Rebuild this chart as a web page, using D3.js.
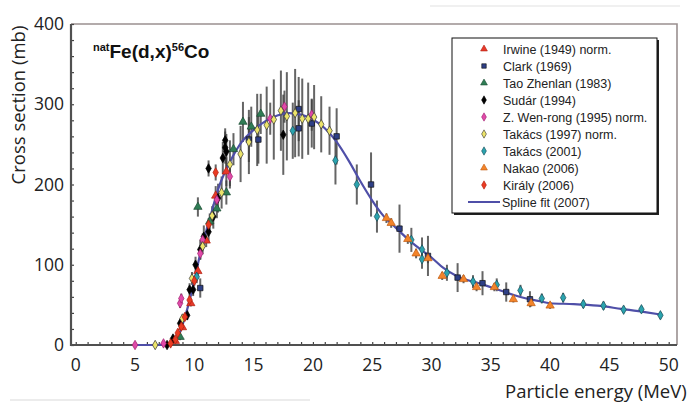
<!DOCTYPE html>
<html>
<head>
<meta charset="utf-8">
<script src="https://cdn.jsdelivr.net/npm/d3@7"></script>
<style>
  body { margin: 0; background: #fff; overflow: hidden; }
  svg { display: block; }
</style>
</head>
<body>
<svg id="chart" width="700" height="403"></svg>
<script>
// ===============================
// Data (energy MeV, cross section mb, error mb)
// ===============================
const xTicks = [0, 5, 10, 15, 20, 25, 30, 35, 40, 45, 50];
const yTicks = [0, 100, 200, 300, 400];

const irwine = [[8.4, 5, 0], [9.0, 22, 3], [9.7, 52, 4], [10.3, 92, 6], [11.0, 130, 8], [11.8, 186, 12], [12.7, 216, 18]];
const clark = [[10.5, 71, 12], [14.6, 256, 28], [15.4, 256, 30], [18.8, 294, 40], [18.8, 270, 35], [19.9, 276, 30],
  [22.0, 260, 35], [24.9, 200, 40], [27.3, 145, 30], [29.7, 111, 25], [32.2, 84, 18], [34.3, 77, 15], [36.3, 66, 12], [38.3, 57, 10]];
const taoZhenlan = [[8.8, 10, 4], [10.3, 172, 12], [11.3, 154, 10], [11.9, 170, 12], [12.7, 190, 15], [13.3, 244, 20],
  [14.1, 278, 25], [14.8, 272, 25], [15.6, 288, 25]];
const sudar = [[7.7, 0, 2], [8.2, 8, 3], [8.8, 27, 5], [9.4, 37, 6], [9.6, 69, 8], [9.9, 69, 8], [10.1, 100, 10],
  [10.5, 119, 12], [10.8, 135, 14], [11.2, 141, 14], [11.2, 220, 10], [11.6, 160, 15], [12.0, 183, 18],
  [12.4, 233, 20], [12.6, 246, 20], [12.7, 241, 22], [12.6, 255, 15], [17.5, 262, 50]];
const wenRong = [[5.0, 0, 0], [7.4, 2, 0], [8.8, 52, 6], [8.9, 58, 6], [10.5, 114, 8], [10.7, 131, 8], [11.9, 181, 10],
  [13.0, 210, 12], [16.4, 282, 20], [17.6, 297, 20], [19.9, 287, 20]];
const takacs1997 = [[6.7, 0, 0], [9.0, 33, 5], [9.8, 83, 8], [10.7, 123, 10], [11.5, 161, 12], [12.3, 190, 20],
  [13.0, 225, 30], [13.9, 238, 35], [14.6, 253, 40], [15.3, 268, 45], [16.1, 274, 48], [16.7, 281, 50],
  [17.3, 292, 50], [17.8, 285, 55], [18.5, 289, 55], [19.1, 282, 50], [19.6, 282, 45], [20.1, 284, 40],
  [20.7, 275, 35], [21.4, 267, 30]];
const takacs2001 = [[10.2, 85, 8], [18.3, 267, 35], [21.9, 230, 30], [23.7, 200, 25], [25.4, 160, 20], [28.3, 131, 15],
  [29.2, 119, 15], [29.2, 107, 12], [31.3, 90, 10], [33.5, 79, 8], [35.5, 75, 8], [37.5, 68, 7], [39.3, 58, 6],
  [41.1, 59, 6], [42.8, 51, 5], [44.5, 49, 5], [46.2, 44, 4], [47.7, 44.5, 4], [49.3, 37, 4]];
const nakao = [[26.2, 158, 6], [26.6, 152, 6], [28.0, 132, 6], [28.7, 114, 6], [29.7, 108, 6], [30.9, 86, 5],
  [32.7, 82, 5], [33.8, 72, 5], [35.3, 72, 5], [36.9, 57, 4], [38.4, 52, 4], [40.0, 49, 4]];
const kiraly = [[8.0, 2, 0], [8.4, 7, 2], [8.6, 15, 3], [8.9, 23, 3], [9.2, 35, 4], [9.6, 56, 5], [10.0, 80, 6],
  [11.2, 150, 8], [11.8, 215, 10]];
const splineFit = [[5, 0], [7, 0], [7.6, 0.5], [8, 2], [8.5, 6], [9, 25], [9.5, 50], [10, 80], [10.5, 114], [11, 142],
  [11.5, 168], [12, 194], [13, 228], [14, 253], [15, 268], [16, 279], [17, 286], [18, 289], [19, 287], [20, 281],
  [21, 270], [22, 253], [23, 230], [24, 204], [25, 180], [26, 160], [27, 146], [28, 132], [29, 120], [30, 109],
  [31, 96], [32, 87], [33, 81], [34, 77], [35, 72], [36, 67], [37, 62], [38, 58], [39, 55], [40, 52], [42, 51],
  [44, 49], [46, 45], [48, 41], [49.3, 38]];

const series = [
  { nom: "Irwine (1949) norm.", data: irwine, forme: d3.symbolTriangle, fill: "#e8392a", stroke: "#b02010" },
  { nom: "Clark (1969)", data: clark, forme: d3.symbolSquare, fill: "#2e3f86", stroke: "#111" },
  { nom: "Tao Zhenlan (1983)", data: taoZhenlan, forme: d3.symbolTriangle, fill: "#2f7d55", stroke: "#1a4a30" },
  { nom: "Sudár (1994)", data: sudar, forme: d3.symbolDiamond, fill: "#000", stroke: "#000" },
  { nom: "Z. Wen-rong (1995) norm.", data: wenRong, forme: d3.symbolDiamond, fill: "#e04aa8", stroke: "#a02070" },
  { nom: "Takács (1997) norm.", data: takacs1997, forme: d3.symbolDiamond, fill: "#ece46a", stroke: "#333" },
  { nom: "Takács (2001)", data: takacs2001, forme: d3.symbolDiamond, fill: "#2aa3ae", stroke: "#1a4a55" },
  { nom: "Nakao (2006)", data: nakao, forme: d3.symbolTriangle, fill: "#f3842a", stroke: "#c05a10" },
  { nom: "Király (2006)", data: kiraly, forme: d3.symbolDiamond, fill: "#ea3b22", stroke: "#b02010" }
];

// taille des symboles selon la forme
function tailleSymbole(forme) {
  if (forme === d3.symbolSquare) return 30;
  if (forme === d3.symbolTriangle) return 30;
  return 26;
}

// ===============================
// Scales and frame
// ===============================
const svg = d3.select("#chart");
const x = d3.scaleLinear().domain([-0.4, 50.7]).range([71, 677]);
const y = d3.scaleLinear().domain([0, 400]).range([345, 24]);

// faint scan lines of the original picture
svg.append("line").attr("x1", 10).attr("x2", 310).attr("y1", 400).attr("y2", 400).attr("stroke", "#ececec").attr("stroke-width", 2);
svg.append("line").attr("x1", 430).attr("x2", 680).attr("y1", 6).attr("y2", 6).attr("stroke", "#f0f0f0").attr("stroke-width", 2);

// top and right border
svg.append("path")
  .attr("d", `M${x.range()[0]},${y(400)}H${x.range()[1]}V${y(0)}`)
  .attr("fill", "none").attr("stroke", "#9a9090").attr("stroke-width", 1.6);

// minor ticks
const gx = svg.append("g").attr("transform", `translate(0,${y(0)})`)
  .call(d3.axisBottom(x).tickValues(d3.range(0, 51, 1)).tickSize(-3).tickFormat(""));
gx.select(".domain").remove();
gx.selectAll("line").attr("stroke", "#444").attr("stroke-width", 1.2);

const gy = svg.append("g").attr("transform", `translate(${x.range()[0]},0)`)
  .call(d3.axisLeft(y).tickValues(d3.range(0, 401, 20)).tickSize(-3).tickFormat(""));
gy.select(".domain").remove();
gy.selectAll("line").attr("stroke", "#444").attr("stroke-width", 1.2);

// main axis lines
svg.append("path")
  .attr("d", `M${x.range()[0]},${y(400)}V${y(0)}H${x.range()[1]}`)
  .attr("fill", "none").attr("stroke", "#505050").attr("stroke-width", 2.2);

// tick labels
svg.append("g").selectAll("text").data(xTicks).join("text")
  .attr("x", d => x(d)).attr("y", 371)
  .attr("text-anchor", "middle")
  .attr("font-family", "'Open Sans', sans-serif").attr("font-size", 17.5).attr("fill", "#222")
  .text(d => d);

svg.append("g").selectAll("text").data(yTicks).join("text")
  .attr("x", 64).attr("y", d => y(d) + 6)
  .attr("text-anchor", "end")
  .attr("font-family", "'Open Sans', sans-serif").attr("font-size", 17.5).attr("fill", "#222")
  .text(d => d);

// axis titles
svg.append("text")
  .attr("transform", "translate(25,105) rotate(-90)")
  .attr("text-anchor", "middle")
  .attr("font-family", "'Open Sans', sans-serif").attr("font-size", 18.5).attr("fill", "#222")
  .text("Cross section (mb)");

svg.append("text")
  .attr("x", 505).attr("y", 398)
  .attr("font-family", "'Open Sans', sans-serif").attr("font-size", 18.5).attr("fill", "#222")
  .text("Particle energy (MeV)");

// reaction title
const titre = svg.append("text").attr("x", 93).attr("y", 58)
  .attr("font-family", "'Liberation Sans', Arial, sans-serif").attr("font-weight", "bold").attr("fill", "#111");
titre.append("tspan").attr("font-size", 11).attr("dy", -7).text("nat");
titre.append("tspan").attr("font-size", 19).attr("dy", 7).text("Fe(d,x)");
titre.append("tspan").attr("font-size", 11).attr("dy", -7).text("56");
titre.append("tspan").attr("font-size", 19).attr("dy", 7).text("Co");

// ===============================
// Error bars, fit, points
// ===============================
const plot = svg.append("g");

series.forEach(s => {
  plot.append("g").selectAll("line").data(s.data.filter(d => d[2] > 0)).join("line")
    .attr("x1", d => x(d[0])).attr("x2", d => x(d[0]))
    .attr("y1", d => y(d[1] - d[2])).attr("y2", d => y(d[1] + d[2]))
    .attr("stroke", "#3e3e3e").attr("stroke-opacity", 0.8).attr("stroke-width", 2);
});

plot.append("path")
  .datum(splineFit)
  .attr("d", d3.line().x(d => x(d[0])).y(d => y(d[1])).curve(d3.curveMonotoneX))
  .attr("fill", "none").attr("stroke", "#4f4fa8").attr("stroke-width", 2.2);

series.forEach(s => {
  const sym = d3.symbol().type(s.forme).size(tailleSymbole(s.forme));
  plot.append("g").selectAll("path").data(s.data).join("path")
    .attr("transform", d => `translate(${x(d[0])},${y(d[1])})`)
    .attr("d", sym)
    .attr("fill", s.fill).attr("stroke", s.stroke).attr("stroke-width", 0.7);
});

// ===============================
// Legend
// ===============================
const leg = svg.append("g");
leg.append("rect").attr("x", 454).attr("y", 40).attr("width", 205).attr("height", 175).attr("fill", "#222");
leg.append("rect").attr("x", 452).attr("y", 38).attr("width", 205).attr("height", 175)
  .attr("fill", "#fff").attr("stroke", "#111").attr("stroke-width", 1);

series.forEach((s, i) => {
  const yy = 49 + i * 17;
  leg.append("path")
    .attr("transform", `translate(484,${yy})`)
    .attr("d", d3.symbol().type(s.forme).size(20))
    .attr("fill", s.fill).attr("stroke", s.stroke).attr("stroke-width", 0.6);
  leg.append("text").attr("x", 503).attr("y", yy + 4.5)
    .attr("font-family", "'Liberation Sans', Arial, sans-serif").attr("font-size", 12.5).attr("fill", "#222")
    .text(s.nom);
});
const yFit = 49 + series.length * 17;
leg.append("line").attr("x1", 468).attr("x2", 500).attr("y1", yFit).attr("y2", yFit)
  .attr("stroke", "#4f4fa8").attr("stroke-width", 2);
leg.append("text").attr("x", 502).attr("y", yFit + 4.5)
  .attr("font-family", "'Liberation Sans', Arial, sans-serif").attr("font-size", 12.5).attr("fill", "#222")
  .text("Spline fit (2007)");
</script>
</body>
</html>
